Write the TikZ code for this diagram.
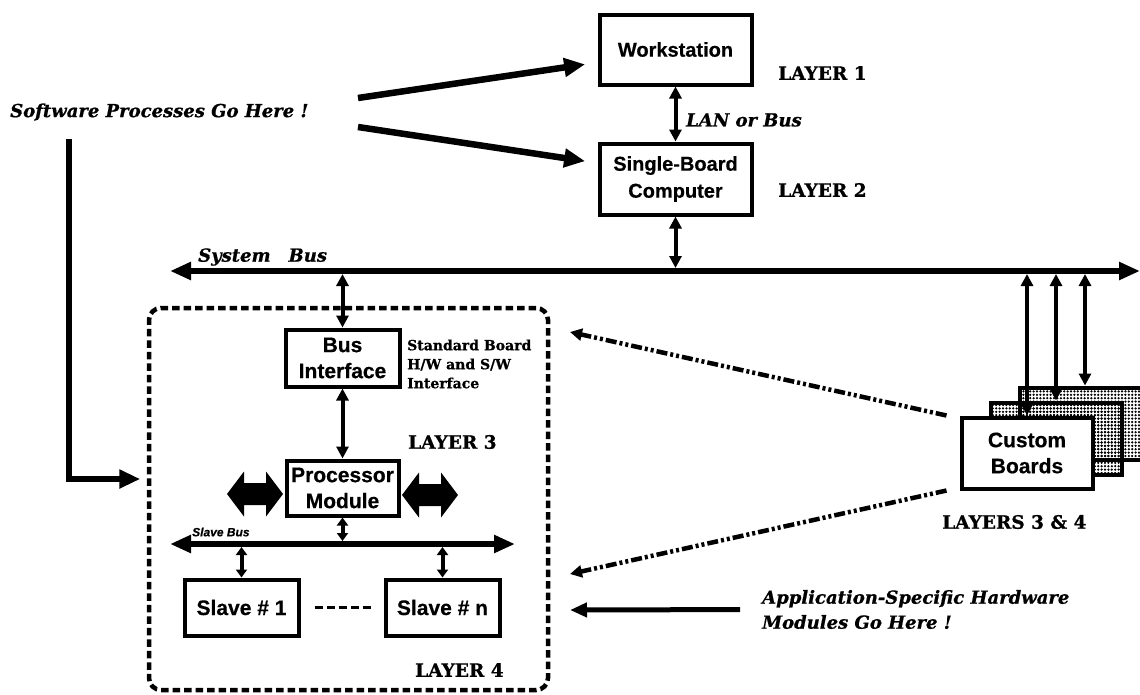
\documentclass[tikz,border=0pt]{standalone}
\usepackage{fontspec}
\setmainfont[BoldFeatures={FakeBold=0.8},BoldItalicFeatures={FakeBold=0.8}]{DejaVu Serif}
\setsansfont[BoldFeatures={FakeBold=0.5},BoldItalicFeatures={FakeBold=0.5}]{Liberation Sans}
\usetikzlibrary{arrows.meta,patterns}

% dotted halftone for the stacked boards
\pgfdeclarepatternformonly{boarddots}{\pgfqpoint{-1.5pt}{-1.5pt}}{\pgfqpoint{1.5pt}{1.5pt}}{\pgfqpoint{3.4pt}{3.4pt}}{%
  \pgfpathcircle{\pgfqpoint{0pt}{0pt}}{1.25pt}\pgfusepath{fill}}

% double-headed block arrow between x=#1 and x=#2, centred on y=#3
\newcommand\blockdbl[3]{%
  \fill (#1,#3) -- (#1+17,#3-22.5) -- (#1+17,#3-11) -- (#2-17,#3-11) -- (#2-17,#3-22.5)
    -- (#2,#3) -- (#2-17,#3+22.5) -- (#2-17,#3+11) -- (#1+17,#3+11) -- (#1+17,#3+22.5) -- cycle;}

\begin{document}
\begin{tikzpicture}[x=1pt,y=-1pt,
  box/.style={draw,line width=4pt,fill=white,inner sep=0pt,align=center,
    font=\sffamily\bfseries\fontsize{21}{26}\selectfont},
  topbox/.style={box,minimum width=152pt,font=\sffamily\bfseries\fontsize{20}{27}\selectfont},
  unitbox/.style={box,minimum width=114pt},
  backboard/.style={draw,line width=4pt,pattern=boarddots,
    minimum width=131pt,minimum height=72pt,inner sep=0pt},
  layer/.style={font=\bfseries\fontsize{18.5}{22}\selectfont,anchor=west,inner sep=0pt},
  note/.style={font=\bfseries\itshape\fontsize{18}{25}\selectfont,anchor=west,inner sep=0pt,align=left},
  smallnote/.style={font=\bfseries\fontsize{14}{19}\selectfont,anchor=west,inner sep=0pt,align=left},
  link/.style={line width=4pt,{Triangle[length=12pt,width=12pt]}-{Triangle[length=12pt,width=12pt]}},
  shortlink/.style={line width=4pt,{Triangle[length=8pt,width=11pt]}-{Triangle[length=8pt,width=11pt]}},
  busline/.style={line width=6pt,{Triangle[length=21pt,width=17pt]}-{Triangle[length=21pt,width=17pt]}},
  heavy/.style={line width=6.5pt,-{Triangle[length=21pt,width=18pt]}},
  dashdot/.style={line width=4.5pt,dash pattern=on 11pt off 3pt on 3pt off 3pt on 3pt off 3pt,
    -{Triangle[length=12pt,width=12pt]}},
  group/.style={draw,line width=4.5pt,dash pattern=on 7.5pt off 4pt,rounded corners=12pt,inner sep=0pt}
]
\useasboundingbox (0,0) rectangle (1140,694);
\fill[white] (0,0) rectangle (1140,694);

% ---- layer 3/4 board outline
\node[group,minimum width=399pt,minimum height=382pt] (grp) at (348.5,499) {};

% ---- layers 1 and 2
\node[topbox,minimum height=70pt] (ws) at (675.5,49.5) {Workstation};
\node[topbox,minimum height=71pt] (sbc) at (675.5,179) {Single-Board\\Computer};
\node[layer] (l1) at (778,73) {LAYER 1};
\node[layer] (l2) at (778,190) {LAYER 2};
\node[note] (lan) at (686,120) {LAN or Bus};
\draw[link] (ws.south) -- (sbc.north);

% ---- software entry points
\node[note] (sw) at (10,112) {Software Processes Go Here !};
\coordinate (swA) at (358,98);
\coordinate (swB) at (358,127);
\coordinate (swC) at (69,139);
\draw[heavy,shorten >=12.5pt] (swA) -- ([yshift=-13pt]ws.west);
\draw[heavy,shorten >=12.5pt] (swB) -- ([yshift=16pt]sbc.west);
\draw[heavy,shorten >=6.5pt] (swC) |- ([yshift=20pt]grp.west);

% ---- system bus
\coordinate (busW) at (170,271);
\coordinate (busE) at (1140,271);
\draw[busline] (busW) -- (busE);
\node[note] (sysbus) at (198,257) {System\quad Bus};
\draw[link,shorten >=3pt] (sbc.south) -- (sbc.south |- busW);

% ---- standard board
\node[unitbox,minimum height=57pt] (bi) at (342.5,358) {Bus\\Interface};
\node[smallnote] (std) at (407,364) {Standard Board\\H/W and S/W\\Interface};
\node[box,minimum width=112pt,minimum height=55pt] (pm) at (342.5,488) {Processor\\Module};
\node[layer] (l3) at (408,442) {LAYER 3};
\draw[link,shorten <=3pt] (bi.north |- busW) -- (bi.north);
\draw[link] (bi.south) -- (pm.north);
\blockdbl{227}{283}{494}
\blockdbl{402}{458}{495}

% ---- slave bus and slaves
\coordinate (sbW) at (170,544);
\coordinate (sbE) at (515,544);
\draw[busline] (sbW) -- (sbE);
\node[font=\sffamily\bfseries\itshape\fontsize{12}{14}\selectfont,anchor=west,inner sep=0pt] (sblabel) at (192,532) {Slave Bus};
\node[unitbox,minimum height=56pt] (s1) at (241.5,607.5) {Slave \# 1};
\node[unitbox,minimum height=56pt] (sn) at (442.5,607.5) {Slave \# n};
\draw[shortlink,shorten >=3pt] (pm.south) -- (pm.south |- sbW);
\draw[shortlink,shorten <=3pt] (s1.north |- sbW) -- (s1.north);
\draw[shortlink,shorten <=3pt] (sn.north |- sbW) -- (sn.north);
\draw[line width=3.5pt,dash pattern=on 8pt off 4pt,shorten <=14pt,shorten >=13pt] (s1) -- (sn);
\node[layer] (l4) at (415,670) {LAYER 4};

% ---- custom boards
\node[backboard] (cb3) at (1085,423.5) {};
\node[backboard] (cb2) at (1056,438.5) {};
\node[box,minimum width=131pt,minimum height=71pt] (cb) at (1027,453) {Custom\\Boards};
\node[layer] (l34) at (942,522) {LAYERS 3 \& 4};
\draw[link,shorten <=3pt] (cb.north |- busW) -- (cb.north);
\draw[link,shorten <=3pt] (cb2.north |- busW) -- (cb2.north);
\draw[link,shorten <=3pt] (cb3.north |- busW) -- (cb3.north);

% ---- hardware entry points
\coordinate (hwTop) at (570,332);
\coordinate (hwLow) at (570,574);
\coordinate (hwApp) at (570,610);
\draw[dashdot] ([xshift=-13pt]cb.north west) -- (hwTop);
\draw[dashdot] ([xshift=-13pt]cb.south west) -- (hwLow);
\node[note] (app) at (762,609.5) {Application-Specific Hardware\\Modules Go Here !};
\draw[line width=5pt,-{Triangle[length=17pt,width=14pt]},shorten <=22pt] (app.west) -- (hwApp);
\end{tikzpicture}
\end{document}
